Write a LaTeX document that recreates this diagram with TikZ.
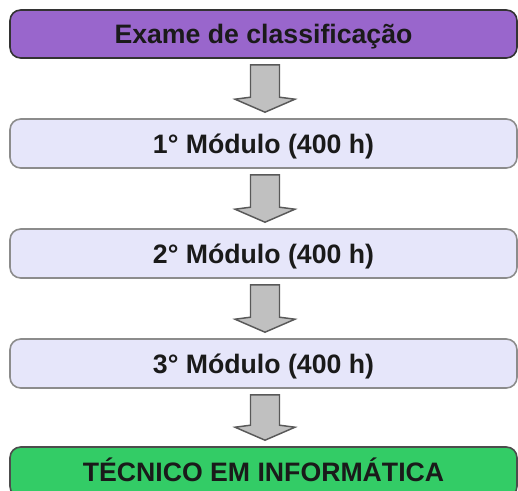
\documentclass[tikz,border=0pt]{standalone}
\usepackage{fontspec}
\setmainfont{Liberation Sans}
\usetikzlibrary{calc}
\definecolor{purplebox}{HTML}{9966CC}
\definecolor{lavbox}{HTML}{E6E6FA}
\definecolor{greenbox}{HTML}{33CC66}
\definecolor{arrowfill}{HTML}{C0C0C0}
\definecolor{txt}{HTML}{1A1A1A}
\tikzset{
  stagebox/.style={rectangle, rounded corners=8pt, minimum width=507*0.75pt, text=txt,
    font=\fontsize{20}{23}\selectfont\bfseries, inner sep=0pt, line width=1.2pt,
    text height=14.3pt, text depth=0pt},
  startbox/.style={stagebox, fill=purplebox, draw=black!80, minimum height=48*0.75pt},
  modbox/.style={stagebox, fill=lavbox, draw=black!45, minimum height=49*0.75pt},
  endbox/.style={stagebox, fill=greenbox, draw=black!70, minimum height=50*0.75pt},
  blockarrow/.style={fill=arrowfill, draw=black!65, line width=1.1pt, line join=miter}
}
\newcommand{\drawblockarrow}[2]{%
  \draw[blockarrow] let \p1=($(#1.south)+(1.5,0)$), \p2=($(#2.north)+(1.5,0)$) in
    (\x1-14.5*0.75pt,\y1-6*0.75pt) -- (\x1+14.5*0.75pt,\y1-6*0.75pt)
    -- (\x1+14.5*0.75pt,\y2+21*0.75pt) -- (\x1+30*0.75pt,\y2+19*0.75pt)
    -- (\x1,\y2+6*0.75pt) -- (\x1-30*0.75pt,\y2+19*0.75pt)
    -- (\x1-14.5*0.75pt,\y2+21*0.75pt) -- cycle;}
\begin{document}
\begin{tikzpicture}[x=0.75pt,y=-0.75pt]
\useasboundingbox (0,0) rectangle (518,490);
\clip (0,0) rectangle (518,490);
\node[startbox] (exam) at (263.5,34) {Exame de classificação};
\node[modbox] (m1) at (263.5,143.5) {1° Módulo (400 h)};
\node[modbox] (m2) at (263.5,253.5) {2° Módulo (400 h)};
\node[modbox] (m3) at (263.5,363.5) {3° Módulo (400 h)};
\node[endbox] (tec) at (263.5,472) {TÉCNICO EM INFORMÁTICA};
\drawblockarrow{exam}{m1}
\drawblockarrow{m1}{m2}
\drawblockarrow{m2}{m3}
\drawblockarrow{m3}{tec}
\end{tikzpicture}
\end{document}
